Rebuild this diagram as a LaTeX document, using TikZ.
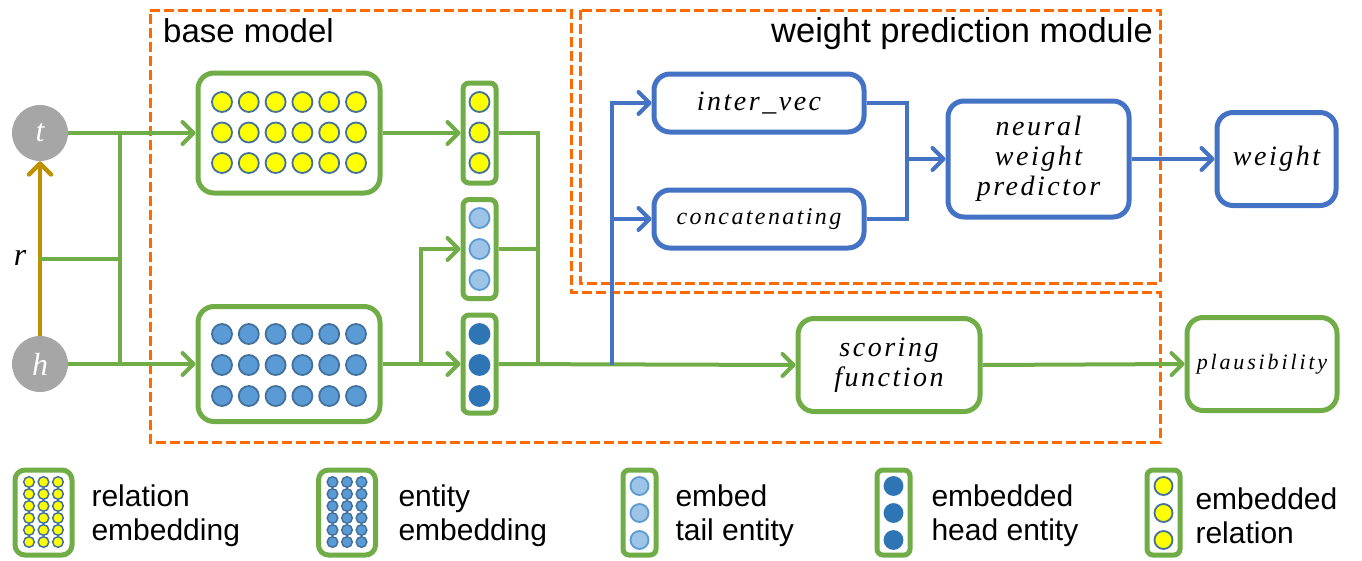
\documentclass[tikz,border=0pt]{standalone}
\usepackage{fontspec}
\usetikzlibrary{arrows.meta}
\newfontfamily\hvf{Liberation Sans}
\newfontfamily\itn{Liberation Serif}
\newfontfamily\itfa[LetterSpace=9]{Liberation Serif}
\newfontfamily\itfb[LetterSpace=10]{Liberation Serif}
\newfontfamily\itfc[LetterSpace=13]{Liberation Serif}
\definecolor{cgreen}{HTML}{70AD47}
\definecolor{cblue}{HTML}{4472C4}
\definecolor{corange}{HTML}{FF6A00}
\definecolor{cgold}{HTML}{BF9000}
\definecolor{cgray}{HTML}{A6A6A6}
\definecolor{cyel}{HTML}{FFFF00}
\definecolor{cbord}{HTML}{41719C}
\definecolor{cent}{HTML}{5B9BD5}
\definecolor{clight}{HTML}{9DC3E6}
\definecolor{cdark}{HTML}{2E75B6}
\tikzset{
  gbox/.style={draw=cgreen, line width=5pt, rounded corners=16pt, fill=white, inner sep=0pt},
  vbox/.style={draw=cgreen, line width=5pt, rounded corners=6pt, fill=white, inner sep=0pt, minimum width=33pt},
  bbox/.style={draw=cblue, line width=5pt, rounded corners=16pt, fill=white, inner sep=0pt, align=center},
  gline/.style={draw=cgreen, line width=4pt},
  bline/.style={draw=cblue, line width=4pt},
  arr/.style={-{Straight Barb[length=11pt,width=22pt,line cap=round,line join=round]}},
  dbox/.style={draw=corange, line width=3pt, dash pattern=on 10pt off 4pt},
  ent/.style={circle, fill=cgray, minimum size=56pt, inner sep=0pt, text=white, font=\itn\itshape\fontsize{32}{32}\selectfont},
  yel/.style={fill=cyel, draw=cbord, line width=1.8pt},
  blu/.style={fill=cent, draw=cbord, line width=1.8pt},
  lig/.style={fill=clight, draw=cent, line width=1.8pt},
  drk/.style={fill=cdark, draw=cdark, line width=1.8pt},
  txa/.style={font=\itfa\itshape\fontsize{28}{30}\selectfont},
  legt/.style={font=\hvf\fontsize{30}{34}\selectfont, anchor=west, align=left},
}
\begin{document}
\begin{tikzpicture}[x=1pt,y=-1pt]
\useasboundingbox (0,0) rectangle (1362,560);

% dashed regions
\draw[dbox] (150,10) -- (571,10) -- (571,292) -- (1160,292) -- (1160,442) -- (150,442) -- cycle;
\draw[dbox] (580,10) rectangle (1160,283);
\node[font=\hvf\fontsize{33}{36}\selectfont, anchor=base west, inner sep=0pt] (tbase) at (163,42) {base model};
\node[font=\hvf\fontsize{34.5}{36}\selectfont, anchor=base east, inner sep=0pt] (twp) at (1153,42) {weight prediction module};

% entities
\node[ent] (t) at (40,133) {t};
\node[ent] (h) at (40,364) {h};
\node[font=\itn\itshape\fontsize{32}{32}\selectfont, inner sep=0pt] (rl) at (20,258) {r};
\coordinate (rj) at (40,259);
\coordinate (j1) at (120,133);
\coordinate (j2) at (120,364);

% embedding boxes
\node[gbox, minimum width=182pt, minimum height=120pt] (relbox) at (289,133) {};
\node[gbox, minimum width=182pt, minimum height=115pt] (entbox) at (289,364) {};
\foreach \i in {0,...,5} {
  \foreach \j in {0,1,2} {
    \filldraw[yel] (222+26.8*\i,102+30.5*\j) circle (10pt);
    \filldraw[blu] (222+26.8*\i,334+31*\j) circle (10pt);
  }
}
\node[vbox, minimum height=100pt] (rvec) at (479.5,133) {};
\node[vbox, minimum height=99pt] (tvec) at (479.5,249) {};
\node[vbox, minimum height=98pt] (hvec) at (479.5,364) {};
\foreach \j in {0,1,2} {
  \filldraw[yel] (479.5,102+30.5*\j) circle (10pt);
  \filldraw[lig] (479.5,218+31*\j) circle (10pt);
  \filldraw[drk] (479.5,334+31*\j) circle (10pt);
}

% weight prediction boxes
\node[bbox, txa, minimum width=210pt, minimum height=58pt] (inter) at (759,103) {inter\_vec};
\node[bbox, font=\itfb\itshape\fontsize{24}{26}\selectfont, minimum width=210pt, minimum height=58pt] (concat) at (759,219) {concatenating};
\node[bbox, txa, minimum width=181pt, minimum height=116pt] (nwp) at (1038.5,159) {neural\\weight\\predictor};
\node[bbox, txa, minimum width=119pt, minimum height=93pt] (weight) at (1276.5,159) {weight};
\node[gbox, txa, align=center, minimum width=182pt, minimum height=93pt] (score) at (889,365) {scoring\\function};
\node[gbox, font=\itfc\itshape\fontsize{22}{24}\selectfont, minimum width=150pt, minimum height=93pt] (plaus) at (1262,364) {plausibility};

% connectors
\draw[cgold, line width=4.5pt, arr] (h.north) -- (t.south);
\draw[gline] (rj) -- (rj -| j1);
\draw[gline] (j1) -- (j2);
\draw[gline, arr] (t.east) -- (relbox.west);
\draw[gline, arr] (h.east) -- (entbox.west);
\draw[gline, arr] (relbox.east) -- (rvec.west);
\draw[gline, arr] (entbox.east) -- (hvec.west);
\coordinate (b1) at (421,364);
\draw[gline, arr] (b1) |- (tvec.west);
\coordinate (m) at (538,365);
\draw[gline] (rvec.east) -| (m);
\draw[gline] (tvec.east) -- (tvec.east -| m);
\draw[gline, arr] (hvec.east) -- (score.west);
\coordinate (bj) at (612,365);
\draw[bline, arr] (bj) |- (inter.west);
\draw[bline, arr] (bj |- concat.west) -- (concat.west);
\coordinate (cj) at (907,159);
\draw[bline] (inter.east) -| (cj);
\draw[bline] (concat.east) -| (cj);
\draw[bline, arr] (cj) -- (nwp.west);
\draw[bline, arr] (nwp.east) -- (weight.west);
\draw[gline, arr] (score.east) -- (plaus.west);

% legend
\node[gbox, rounded corners=10pt, minimum width=57pt, minimum height=85pt] (l1) at (43.5,512.5) {};
\node[gbox, rounded corners=10pt, minimum width=57pt, minimum height=85pt] (l2) at (347,512.5) {};
\foreach \i in {0,1,2} {
  \foreach \j in {0,...,5} {
    \filldraw[yel, line width=1.5pt] (29+14.5*\i,482+12*\j) circle (5.3pt);
    \filldraw[blu, line width=1.5pt] (332.5+14.5*\i,482+12*\j) circle (5.3pt);
  }
}
\node[vbox, minimum height=85pt] (l3) at (639.5,512.5) {};
\node[vbox, minimum height=85pt] (l4) at (893.5,512.5) {};
\node[vbox, minimum height=85pt] (l5) at (1163.5,512.5) {};
\foreach \j in {0,1,2} {
  \filldraw[lig] (639.5,486+27*\j) circle (9pt);
  \filldraw[drk] (893.5,486+27*\j) circle (9pt);
  \filldraw[yel] (1163.5,486+27*\j) circle (9pt);
}
\node[legt] (lt1) at (88,516) {relation\\embedding};
\node[legt] (lt2) at (395,516) {entity\\embedding};
\node[legt] (lt3) at (672,516) {embed\\tail entity};
\node[legt] (lt4) at (928,516) {embedded\\head entity};
\node[legt] (lt5) at (1192,516) {embedded\\relation};
\end{tikzpicture}
\end{document}
